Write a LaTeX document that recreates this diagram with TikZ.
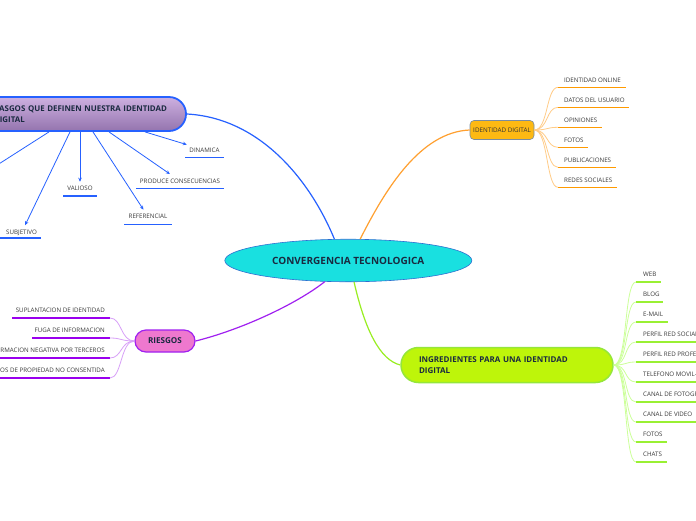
\documentclass[tikz,border=0pt]{standalone}
\usepackage{fontspec}
\setmainfont{Open Sans}
\usetikzlibrary{shapes.geometric,arrows.meta,calc}
\definecolor{navy}{HTML}{1A2A40}
\definecolor{leafgray}{HTML}{3A3A3A}
\definecolor{convfill}{HTML}{19E0E0}
\definecolor{convborder}{HTML}{2D6FD0}
\definecolor{blueline}{HTML}{2661FF}
\definecolor{rasgostop}{HTML}{CDB0E0}
\definecolor{rasgosbot}{HTML}{9474AE}
\definecolor{oranmain}{HTML}{FFA030}
\definecolor{oranlight}{HTML}{FFCC88}
\definecolor{oranline}{HTML}{FF9A00}
\definecolor{iddfill}{HTML}{FDB913}
\definecolor{iddborder}{HTML}{7A8CA0}
\definecolor{greenmain}{HTML}{99EE22}
\definecolor{greenlight}{HTML}{CCFF99}
\definecolor{greenline}{HTML}{99F033}
\definecolor{ingrfill}{HTML}{BEF50A}
\definecolor{ingrborder}{HTML}{95E63A}
\definecolor{purpmain}{HTML}{A020F0}
\definecolor{purplight}{HTML}{D8A0F8}
\definecolor{purpline}{HTML}{9A00EE}
\definecolor{riesfill}{HTML}{EE78CE}
\tikzset{
  conv/.style={ellipse, draw=convborder, line width=0.6pt, fill=convfill,
    minimum width=247pt, minimum height=42.5pt, inner sep=0pt,
    font=\bfseries\fontsize{10}{11}\selectfont, text=navy},
  rasgosbox/.style={rectangle, rounded corners=17pt, draw=blueline, line width=1.8pt,
    top color=rasgostop, bottom color=rasgosbot, minimum height=34pt,
    text width=178pt, inner xsep=14pt, align=left, text=navy,
    font=\bfseries\fontsize{7.9}{11.5}\selectfont},
  ingrbox/.style={rectangle, rounded corners=17.5pt, draw=ingrborder, line width=1.5pt,
    fill=ingrfill, minimum height=35pt, text width=176pt, inner xsep=18pt,
    align=left, text=navy, font=\bfseries\fontsize{8}{10.7}\selectfont},
  iddbox/.style={rectangle, rounded corners=4pt, draw=iddborder, line width=0.6pt,
    fill=iddfill, minimum width=64pt, minimum height=19pt, inner sep=0pt,
    text=black!80, font=\fontsize{6.3}{7}\selectfont},
  riesbox/.style={rectangle, rounded corners=11pt, draw=purpmain, line width=1.2pt,
    fill=riesfill, minimum width=60pt, minimum height=22pt, inner sep=0pt,
    text=navy, font=\bfseries\fontsize{8.1}{9}\selectfont},
  leaf/.style={inner sep=0pt, text=leafgray, font=\fontsize{6.2}{7}\selectfont},
  bleaf/.style={leaf, inner xsep=2.5pt, inner ysep=4.5pt},
  bcon/.style={draw=blueline, line width=0.8pt, -{Stealth[length=4pt,width=3.5pt]}},
  bline/.style={draw=blueline, line width=1.4pt},
  oline/.style={draw=oranline, line width=1.4pt},
  gline/.style={draw=greenline, line width=1.4pt},
  pline/.style={draw=purpline, line width=1.4pt},
  ocon/.style={draw=oranlight, line width=0.8pt},
  gcon/.style={draw=greenlight, line width=0.8pt},
  pcon/.style={draw=purplight, line width=0.8pt},
}
\begin{document}
\begin{tikzpicture}[x=1pt,y=-1pt]
\useasboundingbox (0,0) rectangle (696,520);
\clip (0,0) rectangle (696,520);
\fill[white] (0,0) rectangle (696,520);

% main nodes
\node[conv] (conv) at (348.3,260.5) {CONVERGENCIA TECNOLOGICA};
\node[rasgosbox] (rasgos) at (83,114) {RASGOS QUE DEFINEN NUESTRA IDENTIDAD\\DIGITAL};
\node[iddbox] (idd) at (502,130) {IDENTIDAD DIGITAL};
\node[ingrbox] (ingr) at (507,365) {INGREDIENTES PARA UNA IDENTIDAD\\DIGITAL};
\node[riesbox] (ries) at (165,341) {RIESGOS};

% main connectors
\draw[blueline, line width=1.2pt] (rasgos.east) .. controls (260,118) and (310,180) .. (conv.123);
\draw[oranmain, line width=1.2pt] (conv.61) .. controls (385,190) and (420,132) .. (idd.west);
\draw[greenmain, line width=1.2pt] (conv.285) .. controls (365,330) and (380,360) .. (ingr.west);
\draw[purpmain, line width=1.2pt] (conv.222) .. controls (295,305) and (240,330) .. (ries.east);

% blue leaves
\node[bleaf] (dinamica) at (204.5,150) {DINAMICA};
\node[bleaf] (produce) at (180,181) {PRODUCE CONSECUENCIAS};
\node[bleaf] (referencial) at (148,216.7) {REFERENCIAL};
\node[bleaf] (valioso) at (80,188.7) {VALIOSO};
\node[bleaf] (subjetivo) at (21.5,232.7) {SUBJETIVO};
\coordinate (offleaf) at (-20,176);
\draw[bline] (185,157.7) -- (224,157.7);
\draw[bline] (136,188.7) -- (224,188.7);
\draw[bline] (124,224.7) -- (172,224.7);
\draw[bline] (63,196) -- (97,196);
\draw[bline] (0,238) -- (41,238);
\draw[bcon] ([xshift=62pt]rasgos.south) -- (dinamica);
\draw[bcon] ([xshift=26pt]rasgos.south) -- (produce);
\draw[bcon] ([xshift=10pt]rasgos.south) -- (referencial);
\draw[bcon] ([xshift=-3pt]rasgos.south) -- (valioso);
\draw[bcon] ([xshift=-13pt]rasgos.south) -- (subjetivo);
\draw[bcon] ([xshift=-34pt]rasgos.south) -- (offleaf);

% orange leaves
\foreach \t/\l [count=\i] in {IDENTIDAD ONLINE/68, DATOS DEL USUARIO/71, OPINIONES/44, FOTOS/30, PUBLICACIONES/58, REDES SOCIALES/59}{
  \pgfmathsetmacro\yy{67.3+20*\i}
  \node[leaf, anchor=west] (o\i) at (564,\yy-7.3) {\t};
  \coordinate (ou\i) at (558,\yy);
  \draw[oline] (ou\i) -- ++(\l,0);
  \draw[ocon] (idd.east) .. controls +(14,0) and +(-12,0) .. (ou\i);
}

% green leaves
\foreach \t/\l [count=\i] in {WEB/25, BLOG/27, E-MAIL/32, PERFIL RED SOCIAL/80, PERFIL RED PROFESIONAL/100, TELEFONO MOVIL-SMARTPHONE/110, CANAL DE FOTOGRAFIA/90, CANAL DE VIDEO/61, FOTOS/31, CHATS/31}{
  \pgfmathsetmacro\yy{262+20*\i}
  \node[leaf, anchor=west] (g\i) at (643,\yy-8) {\t};
  \coordinate (gu\i) at (636,\yy);
  \draw[gline] (gu\i) -- ++(\l,0);
  \draw[gcon] (ingr.east) .. controls +(14,0) and +(-12,0) .. (gu\i);
}

% purple leaves
\foreach \t/\l [count=\i] in {SUPLANTACION DE IDENTIDAD/98, FUGA DE INFORMACION/78, INFORMACION NEGATIVA POR TERCEROS/120, DERECHOS DE PROPIEDAD NO CONSENTIDA/120}{
  \pgfmathsetmacro\yy{298+20*\i}
  \node[leaf, anchor=east] (p\i) at (105,\yy-7.5) {\t};
  \coordinate (pu\i) at (110,\yy);
  \draw[pline] (pu\i) -- ++(-\l,0);
  \draw[pcon] (ries.west) .. controls +(-14,0) and +(12,0) .. (pu\i);
}
\end{tikzpicture}
\end{document}
